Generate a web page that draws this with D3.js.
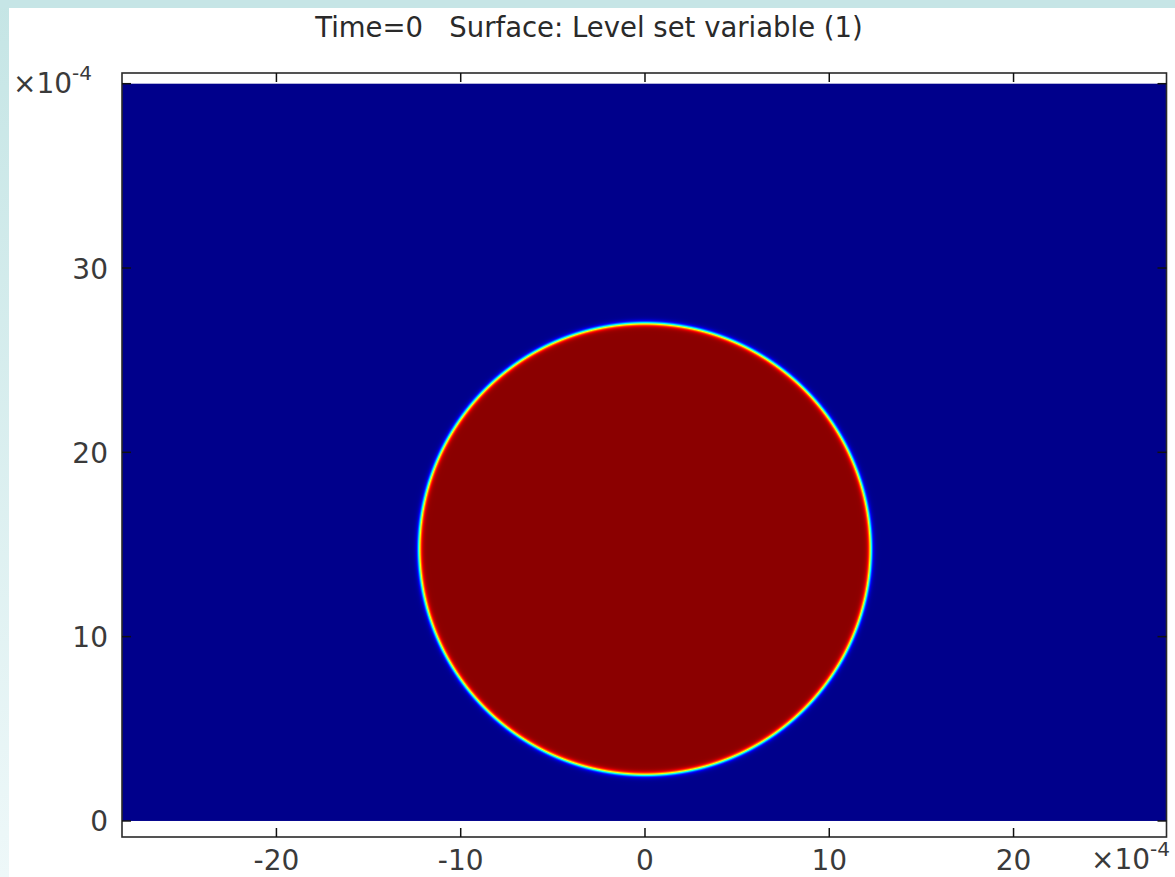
<!DOCTYPE html>
<html>
<head>
<meta charset="utf-8">
<script src="https://cdn.jsdelivr.net/npm/d3@7"></script>
<style>
  html, body { margin: 0; padding: 0; background: #ffffff; }
  svg { display: block; font-family: "DejaVu Sans", sans-serif; }
  text { white-space: pre; }
</style>
</head>
<body>
<svg id="chart" width="1175" height="877"></svg>
<script>
// ---- data (units of 1e-4) ----
var xTicks = [-20, -10, 0, 10, 20];
var yTicks = [0, 10, 20, 30, 40];
var yTickLabels = ["0", "10", "20", "30", ""];
var domainX = [-28.38, 28.3];      // geometry extent in x
var domainY = [0, 40];             // geometry extent in y
var circleCenter = [0, 14.75];
var circleRadius = 12.25;
var interfaceWidth = 0.075;        // level set smoothing
var titleText = "Time=0   Surface: Level set variable (1)";
var jetStops = [0, 0.125, 0.375, 0.625, 0.875, 1];
var jetColors = ["#00008b", "#0000ff", "#00ffff", "#ffff00", "#ff0000", "#8b0000"];

var W = 1175, H = 877;
var svg = d3.select("#chart");
var defs = svg.append("defs");

// frame background: cyan border fading down the left side
var bg = defs.append("linearGradient").attr("id", "leftFade")
  .attr("x1", 0).attr("y1", 0).attr("x2", 0).attr("y2", 1);
bg.append("stop").attr("offset", 0).attr("stop-color", "#c5e5e5");
bg.append("stop").attr("offset", 1).attr("stop-color", "#eef8f9");
svg.append("rect").attr("width", W).attr("height", H).attr("fill", "url(#leftFade)");
svg.append("rect").attr("width", W).attr("height", 8).attr("fill", "#c6e5e6");
svg.append("rect").attr("x", 9).attr("y", 8).attr("width", W - 9).attr("height", H - 8).attr("fill", "#ffffff");

// axes box
var box = { left: 122, right: 1166.5, top: 73, bottom: 837 };
var x = d3.scaleLinear().domain(domainX).range([box.left, box.right]);
var y = d3.scaleLinear().domain([-0.87, 40.58]).range([box.bottom, box.top]);

var jet = d3.scaleLinear().domain(jetStops).range(jetColors);

// level set field: phi = 1 inside the circle, 0 outside, smooth across the interface
var cx = x(circleCenter[0]), cy = y(circleCenter[1]);
var rPx = x(circleRadius) - x(0);
var epsPx = x(interfaceWidth) - x(0);
var outerR = rPx + 8 * epsPx;
var grad = defs.append("radialGradient").attr("id", "levelset")
  .attr("gradientUnits", "userSpaceOnUse")
  .attr("cx", cx).attr("cy", cy).attr("r", outerR)
  .attr("fx", cx).attr("fy", cy);
var steps = d3.range(-8, 8.01, 0.5);
grad.append("stop").attr("offset", 0).attr("stop-color", jet(1));
steps.forEach(function (s) {
  var d = s * epsPx;
  var phi = 1 / (1 + Math.exp(d / epsPx));
  grad.append("stop")
    .attr("offset", (rPx + d) / outerR)
    .attr("stop-color", jet(phi));
});

svg.append("rect")
  .attr("x", x(domainX[0])).attr("y", y(domainY[1]))
  .attr("width", x(domainX[1]) - x(domainX[0]))
  .attr("height", y(domainY[0]) - y(domainY[1]))
  .attr("fill", "url(#levelset)");

// box outline
svg.append("rect")
  .attr("x", box.left).attr("y", box.top)
  .attr("width", box.right - box.left).attr("height", box.bottom - box.top)
  .attr("fill", "none").attr("stroke", "#2a2a2a").attr("stroke-width", 1.6);

// ticks (inward, on all four sides)
var tickLen = 9;
var tk = svg.append("g").attr("stroke", "#111").attr("stroke-width", 1.5);
xTicks.forEach(function (t) {
  tk.append("line").attr("x1", x(t)).attr("x2", x(t)).attr("y1", box.bottom).attr("y2", box.bottom - tickLen);
  tk.append("line").attr("x1", x(t)).attr("x2", x(t)).attr("y1", box.top).attr("y2", box.top + tickLen);
});
yTicks.forEach(function (t) {
  tk.append("line").attr("y1", y(t)).attr("y2", y(t)).attr("x1", box.left).attr("x2", box.left + tickLen);
  tk.append("line").attr("y1", y(t)).attr("y2", y(t)).attr("x1", box.right).attr("x2", box.right - tickLen);
});

// tick labels
var labelColor = "#3a3a3a";
svg.append("g").selectAll("text").data(xTicks).join("text")
  .attr("x", function (d) { return x(d); })
  .attr("y", 870)
  .attr("text-anchor", "middle")
  .attr("font-size", 28)
  .attr("fill", labelColor)
  .text(function (d) { return d; });

svg.append("g").selectAll("text").data(yTicks).join("text")
  .attr("x", 108)
  .attr("y", function (d) { return y(d) + 10.5; })
  .attr("text-anchor", "end")
  .attr("font-size", 28)
  .attr("fill", labelColor)
  .text(function (d, i) { return yTickLabels[i]; });

// exponent labels
function exponent(xPos, yBase) {
  var t = svg.append("text").attr("x", xPos).attr("y", yBase)
    .attr("font-size", 28).attr("fill", labelColor);
  t.append("tspan").text("\u00d710");
  t.append("tspan").attr("font-size", 20).attr("dy", -13).text("-4");
}
exponent(13, 93);
exponent(1091, 869);

// title
svg.append("text")
  .attr("x", 589).attr("y", 37)
  .attr("text-anchor", "middle")
  .attr("font-size", 27.5)
  .attr("fill", "#2a2a2a")
  .text(titleText);
</script>
</body>
</html>
